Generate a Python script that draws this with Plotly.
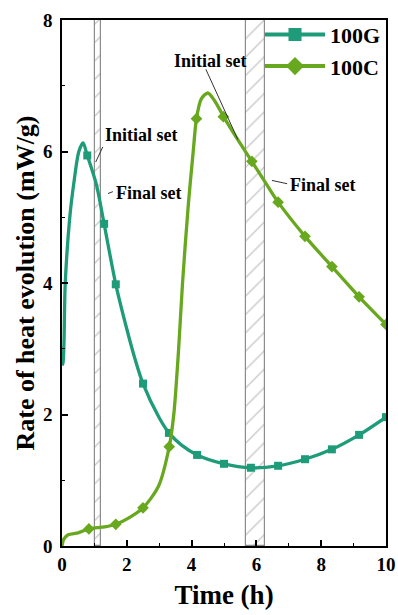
import plotly.graph_objects as go

# ---- data ----
g_x = [0.0, 0.03, 0.1, 0.24, 0.36, 0.52, 0.65, 0.78, 1.06, 1.30, 1.66, 2.0, 2.25, 2.5, 3.0, 3.3, 3.7, 4.17, 5.0, 5.83, 6.67, 7.5, 8.33, 9.17, 10.0]
g_y = [2.75, 2.78, 4.0, 5.0, 5.5, 6.0, 6.13, 5.94, 5.5, 4.9, 3.98, 3.3, 2.85, 2.47, 1.95, 1.72, 1.53, 1.385, 1.25, 1.19, 1.22, 1.32, 1.47, 1.69, 1.96]
g_mx = [0.78, 1.30, 1.66, 2.5, 3.3, 4.17, 5.0, 5.83, 6.67, 7.5, 8.33, 9.17, 10.0]
g_my = [5.94, 4.9, 3.98, 2.47, 1.72, 1.385, 1.25, 1.19, 1.22, 1.32, 1.47, 1.69, 1.96]

c_x = [0.0, 0.05, 0.19, 0.5, 0.83, 1.32, 1.66, 2.14, 2.5, 2.97, 3.31, 3.45, 3.6, 3.72, 3.9, 4.05, 4.15, 4.3, 4.5, 4.7, 5.0, 5.4, 5.86, 6.25, 6.67, 7.5, 8.33, 9.17, 10.0]
c_y = [0.0, 0.1, 0.17, 0.2, 0.26, 0.29, 0.33, 0.45, 0.58, 0.9, 1.51, 2.0, 3.0, 4.0, 5.2, 6.0, 6.5, 6.8, 6.89, 6.78, 6.52, 6.2, 5.85, 5.55, 5.23, 4.71, 4.25, 3.79, 3.37]
c_mx = [0.83, 1.66, 2.5, 3.31, 4.15, 4.98, 5.86, 6.67, 7.5, 8.33, 9.17, 10.0]
c_my = [0.26, 0.33, 0.58, 1.51, 6.5, 6.53, 5.85, 5.23, 4.71, 4.25, 3.79, 3.37]

band_start = [1.02, 5.67]
band_end = [1.20, 6.25]

names = ["100G", "100C"]
colors = ["#1E9B78", "#68A81E"]
FONT = "Liberation Serif"

fig = go.Figure()

# hatched set bands
fig.add_trace(go.Bar(
    x=[(a + b) / 2 for a, b in zip(band_start, band_end)],
    y=[8, 8], base=[0, 0],
    width=[b - a for a, b in zip(band_start, band_end)],
    marker=dict(color="white", line=dict(color="#8c8c8c", width=1.2),
                pattern=dict(shape="/", fgcolor="#8c8c8c", bgcolor="white", size=13, solidity=0.1)),
    showlegend=False, hoverinfo="skip"))

for nm, col, xs, ys, mx, my, sym, ms in [
    (names[0], colors[0], g_x, g_y, g_mx, g_my, "square", 8),
    (names[1], colors[1], c_x, c_y, c_mx, c_my, "diamond", 9),
]:
    fig.add_trace(go.Scatter(x=xs, y=ys, mode="lines", line=dict(color=col, width=3.3, shape="spline", smoothing=0.8),
                             showlegend=False))
    fig.add_trace(go.Scatter(x=mx, y=my, mode="markers", marker=dict(symbol=sym, size=ms, color=col),
                             showlegend=False))
    fig.add_trace(go.Scatter(x=[None], y=[None], mode="lines+markers", name="<b>" + nm + "</b>",
                             line=dict(color=col, width=4), marker=dict(symbol=sym, size=ms + 5, color=col)))

ann_font = dict(family=FONT, size=18, color="black")
annotations = [
    dict(x=1.26, y=6.25, text="<b>Initial set</b>"),
    dict(x=1.60, y=5.37, text="<b>Final set</b>"),
    dict(x=3.39, y=7.38, text="<b>Initial set</b>"),
    dict(x=6.98, y=5.49, text="<b>Final set</b>"),
]
for a in annotations:
    fig.add_annotation(xref="x", yref="y", xanchor="left", yanchor="middle", showarrow=False, font=ann_font, **a)

leaders = [
    (1.26, 6.07, 1.04, 5.84),
    (1.42, 5.36, 1.57, 5.39),
    (4.44, 7.25, 5.43, 6.18),
    (6.48, 5.56, 6.95, 5.51),
]
for x0, y0, x1, y1 in leaders:
    fig.add_shape(type="line", xref="x", yref="y", x0=x0, y0=y0, x1=x1, y1=y1,
                  line=dict(color="#333333", width=1))

axis_common = dict(showline=True, linecolor="black", linewidth=1.5, mirror=True, ticks="inside",
                   ticklen=6, tickwidth=1.5, tickcolor="black", showgrid=False, zeroline=False,
                   automargin=False,
                   tickfont=dict(family=FONT, size=19, color="black"))

fig.update_xaxes(range=[0, 10], dtick=2, tick0=0, tickprefix="<b>", ticksuffix="</b>",
                 minor=dict(ticks="inside", dtick=1, ticklen=3, tickcolor="black", tickwidth=1.2),
                 title=dict(text="<b>Time (h)</b>", font=dict(family=FONT, size=27, color="black"), standoff=12),
                 **axis_common)
fig.update_yaxes(range=[0, 8], dtick=2, tick0=0, tickprefix="<b>", ticksuffix="</b>",
                 ticklabelstandoff=4,
                 minor=dict(ticks="inside", dtick=1, ticklen=3, tickcolor="black", tickwidth=1.2),
                 title=dict(text="<b>Rate of heat evolution (mW/g)</b>", font=dict(family=FONT, size=26, color="black"), standoff=1),
                 **axis_common)

fig.update_layout(
    width=398, height=615,
    margin=dict(l=62, r=12, t=20, b=69),
    plot_bgcolor="white", paper_bgcolor="white",
    barmode="overlay", bargap=0,
    legend=dict(x=1.0, y=1.012, xanchor="right", yanchor="top", bgcolor="rgba(255,255,255,0)",
                font=dict(family=FONT, size=22, color="black"), itemwidth=60, tracegroupgap=4,
                traceorder="normal"),
    showlegend=True,
)

fig.write_html("out.html")
